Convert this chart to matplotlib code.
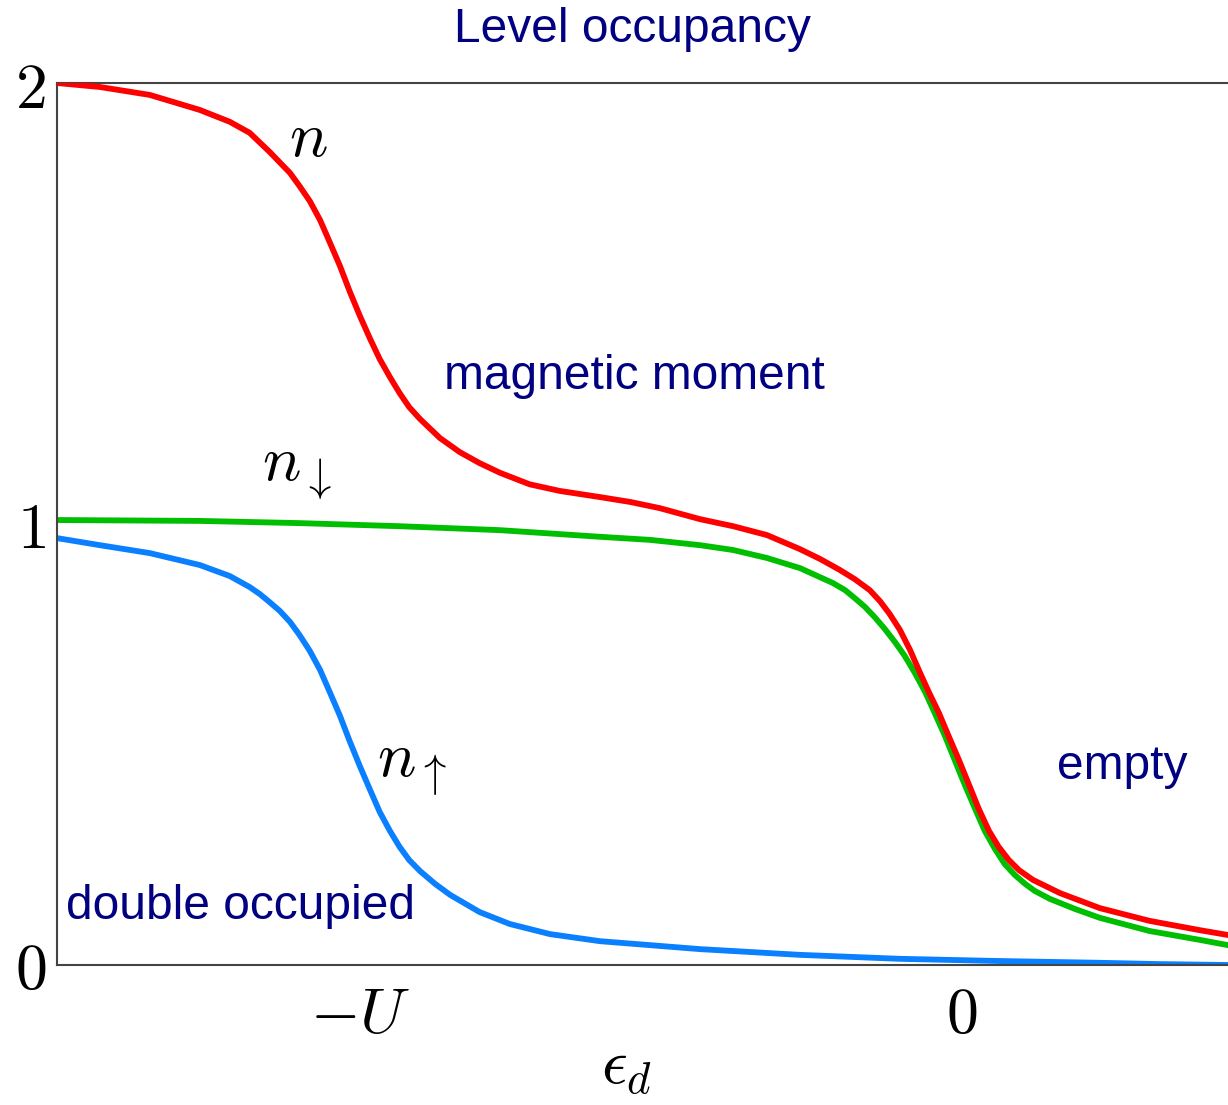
import matplotlib
matplotlib.use("Agg")
import matplotlib.pyplot as plt

plt.rcParams["mathtext.fontset"] = "cm"

# Level energy eps_d (in units of U) and the occupancies n, n_down, n_up
n_x = [-1.503, -1.432, -1.349, -1.266, -1.216, -1.183, -1.150, -1.116, -1.100,
       -1.083, -1.066, -1.050, -1.033, -1.017, -1.000, -0.983, -0.967, -0.950,
       -0.934, -0.918, -0.900, -0.867, -0.834, -0.801, -0.767, -0.718, -0.668,
       -0.601, -0.551, -0.502, -0.435, -0.380, -0.324, -0.269, -0.236, -0.203,
       -0.178, -0.153, -0.136, -0.120, -0.103, -0.086, -0.070, -0.055, -0.038,
       -0.022, -0.005, 0.012, 0.028, 0.045, 0.061, 0.078, 0.095, 0.118, 0.163,
       0.229, 0.312, 0.395, 0.442]
n_y = [2.000, 1.991, 1.973, 1.939, 1.912, 1.887, 1.844, 1.796, 1.766,
       1.732, 1.689, 1.639, 1.585, 1.528, 1.472, 1.420, 1.374, 1.333,
       1.297, 1.265, 1.238, 1.195, 1.163, 1.138, 1.116, 1.090, 1.075,
       1.061, 1.050, 1.036, 1.011, 0.995, 0.975, 0.943, 0.921, 0.896,
       0.875, 0.850, 0.825, 0.796, 0.760, 0.714, 0.664, 0.619, 0.571,
       0.519, 0.465, 0.408, 0.354, 0.304, 0.268, 0.238, 0.215, 0.193, 0.163,
       0.129, 0.100, 0.079, 0.068]

ndn_x = [-1.503, -1.266, -1.100, -0.934, -0.767, -0.601, -0.518, -0.435,
         -0.380, -0.324, -0.269, -0.214, -0.194, -0.178, -0.161, -0.145,
         -0.128, -0.111, -0.095, -0.078, -0.061, -0.045, -0.028, -0.012,
         0.005, 0.022, 0.038, 0.055, 0.071, 0.088, 0.105, 0.121, 0.146,
         0.188, 0.229, 0.312, 0.395, 0.442]
ndn_y = [1.009, 1.007, 1.002, 0.995, 0.986, 0.971, 0.964, 0.952,
         0.941, 0.923, 0.900, 0.866, 0.850, 0.832, 0.812, 0.789,
         0.762, 0.732, 0.701, 0.662, 0.619, 0.571, 0.519, 0.465,
         0.408, 0.354, 0.304, 0.263, 0.229, 0.204, 0.184, 0.168, 0.150,
         0.127, 0.107, 0.077, 0.057, 0.045]

nup_x = [-1.503, -1.432, -1.349, -1.266, -1.216, -1.183, -1.166, -1.150,
         -1.133, -1.116, -1.100, -1.083, -1.066, -1.050, -1.033, -1.017,
         -1.000, -0.983, -0.967, -0.950, -0.934, -0.918, -0.900, -0.875,
         -0.850, -0.801, -0.751, -0.684, -0.601, -0.518, -0.435, -0.269,
         -0.103, 0.063, 0.229, 0.329, 0.442]
nup_y = [0.968, 0.952, 0.934, 0.907, 0.882, 0.857, 0.841, 0.823,
         0.803, 0.778, 0.748, 0.712, 0.669, 0.619, 0.565, 0.508,
         0.451, 0.397, 0.347, 0.304, 0.268, 0.238, 0.213, 0.184,
         0.159, 0.120, 0.093, 0.070, 0.054, 0.045, 0.036, 0.023,
         0.014, 0.009, 0.005, 0.002, 0.000]

x_ticks = [-1, 0]
x_tick_labels = [r"$-U$", r"$0$"]
y_ticks = [0, 1, 2]
y_tick_labels = [r"$0$", r"$1$", r"$2$"]

navy = "#000080"

fig = plt.figure(figsize=(12.28, 11.05), dpi=100)
ax = fig.add_axes([57 / 1228, 140 / 1105, 1 - 57 / 1228, 882 / 1105])

lw = 4.2
ax.plot(n_x, n_y, color="#ff0000", lw=lw, solid_joinstyle="round", zorder=3)
ax.plot(ndn_x, ndn_y, color="#00bf00", lw=lw, solid_joinstyle="round", zorder=2)
ax.plot(nup_x, nup_y, color="#0a80ff", lw=lw, solid_joinstyle="round", zorder=2)

ax.set_xlim(-1.503, 0.442)
ax.set_ylim(0, 2)

for side in ("left", "top", "bottom"):
    ax.spines[side].set_color("#444444")
    ax.spines[side].set_linewidth(1.5)
ax.spines["right"].set_visible(False)

mfs = 46
ax.set_xticks(x_ticks)
ax.set_xticklabels(x_tick_labels, fontsize=mfs)
ax.set_yticks(y_ticks)
ax.set_yticklabels(y_tick_labels, fontsize=mfs)
ax.tick_params(axis="x", length=0, pad=14)
ax.tick_params(axis="y", length=0, pad=8)
ax.set_xlabel(r"$\epsilon_d$", fontsize=mfs)
ax.xaxis.set_label_coords((627 - 57) / 1171, -0.080)

# curve labels
ax.text(-1.085, 1.875, r"$n$", fontsize=mfs, ha="center", va="center")
ax.text(-1.105, 1.12, r"$n_{\downarrow}$", fontsize=mfs, ha="center", va="center")
ax.text(-0.913, 0.45, r"$n_{\uparrow}$", fontsize=mfs, ha="center", va="center")

# regime labels
tk = dict(color=navy, fontsize=34.5, family="Liberation Sans", va="center")
ax.text(-0.860, 1.335, "magnetic moment", ha="left", **tk)
ax.text(-1.488, 0.133, "double occupied", ha="left", **tk)
ax.text(0.158, 0.450, "empty", ha="left", **tk)

fig.text(632 / 1228, 1 - 30 / 1105, "Level occupancy", ha="center",
         color=navy, fontsize=34.5, family="Liberation Sans", va="center")

fig.savefig("out.png", dpi=100)
